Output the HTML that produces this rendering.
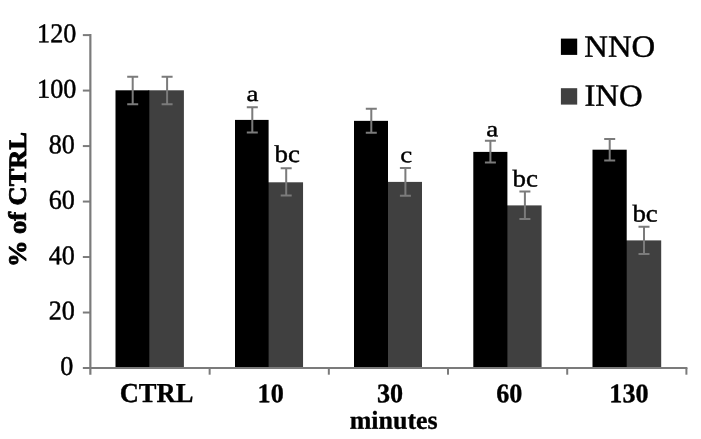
<!DOCTYPE html>
<html><head><meta charset="utf-8"><title>chart</title>
<style>html,body{margin:0;padding:0;background:#fff}svg{display:block}text{font-family:"Liberation Serif",serif;fill:#000;text-rendering:geometricPrecision}</style></head><body>
<svg width="701" height="439" viewBox="0 0 701 439">
<rect width="701" height="439" fill="#fff"/>
<rect x="148.30" y="90.30" width="35.60" height="277.70" fill="#404040"/>
<rect x="115.50" y="90.30" width="33.80" height="277.70" fill="#000"/>
<rect x="267.60" y="182.30" width="35.45" height="185.70" fill="#404040"/>
<rect x="235.00" y="119.90" width="33.60" height="248.10" fill="#000"/>
<rect x="387.00" y="181.90" width="35.00" height="186.10" fill="#404040"/>
<rect x="354.00" y="120.85" width="34.00" height="247.15" fill="#000"/>
<rect x="506.40" y="205.40" width="35.20" height="162.60" fill="#404040"/>
<rect x="473.30" y="151.90" width="34.10" height="216.10" fill="#000"/>
<rect x="625.70" y="240.40" width="35.50" height="127.60" fill="#404040"/>
<rect x="592.50" y="149.70" width="34.20" height="218.30" fill="#000"/>
<g stroke="#7b7b7b" stroke-width="2" fill="none">
<path d="M90.35 34.10 V374.7" stroke-width="2.2"/>
<path d="M82.85 368.0 H687.4"/>
<path d="M82.85 35.10 H90.45"/>
<path d="M82.85 90.58 H90.45"/>
<path d="M82.85 146.07 H90.45"/>
<path d="M82.85 201.55 H90.45"/>
<path d="M82.85 257.03 H90.45"/>
<path d="M82.85 312.52 H90.45"/>
<path d="M209.64 368.0 V374.7"/>
<path d="M328.83 368.0 V374.7"/>
<path d="M448.02 368.0 V374.7"/>
<path d="M567.21 368.0 V374.7"/>
<path d="M686.40 368.0 V374.7"/>
<path d="M127.20 76.70 H138.20 M127.20 104.30 H138.20 M132.70 76.70 V104.30"/>
<path d="M161.60 76.70 H172.60 M161.60 104.30 H172.60 M167.10 76.70 V104.30"/>
<path d="M246.80 107.30 H257.80 M246.80 132.40 H257.80 M252.30 107.30 V132.40"/>
<path d="M280.70 168.30 H291.70 M280.70 195.50 H291.70 M286.20 168.30 V195.50"/>
<path d="M365.80 108.65 H376.80 M365.80 132.75 H376.80 M371.30 108.65 V132.75"/>
<path d="M399.90 168.00 H410.90 M399.90 195.70 H410.90 M405.40 168.00 V195.70"/>
<path d="M484.90 140.80 H495.90 M484.90 162.40 H495.90 M490.40 140.80 V162.40"/>
<path d="M519.40 191.60 H530.40 M519.40 219.10 H530.40 M524.90 191.60 V219.10"/>
<path d="M604.20 139.10 H615.20 M604.20 160.60 H615.20 M609.70 139.10 V160.60"/>
<path d="M638.50 226.70 H649.50 M638.50 254.10 H649.50 M644.00 226.70 V254.10"/>
</g>
<text transform="matrix(1.0050 0.001 -0.001 1.0453 37.06 42.19)" font-size="26" stroke="#000" stroke-width="0.45" stroke-linejoin="round">120</text>
<text transform="matrix(1.0050 0.001 -0.001 1.0453 37.06 97.68)" font-size="26" stroke="#000" stroke-width="0.45" stroke-linejoin="round">100</text>
<text transform="matrix(1.0050 0.001 -0.001 1.0453 48.67 153.16)" font-size="26" stroke="#000" stroke-width="0.45" stroke-linejoin="round">80</text>
<text transform="matrix(1.0050 0.001 -0.001 1.0453 48.67 208.64)" font-size="26" stroke="#000" stroke-width="0.45" stroke-linejoin="round">60</text>
<text transform="matrix(1.0050 0.001 -0.001 1.0453 48.67 264.13)" font-size="26" stroke="#000" stroke-width="0.45" stroke-linejoin="round">40</text>
<text transform="matrix(1.0050 0.001 -0.001 1.0453 48.67 319.61)" font-size="26" stroke="#000" stroke-width="0.45" stroke-linejoin="round">20</text>
<text transform="matrix(1.0050 0.001 -0.001 1.0453 60.19 375.09)" font-size="26" stroke="#000" stroke-width="0.45" stroke-linejoin="round">0</text>
<text transform="matrix(1.0200 0.001 -0.001 1.0537 119.70 401.93)" font-size="26" font-weight="bold" stroke="#000" stroke-width="0.35" stroke-linejoin="round">CTRL</text>
<text transform="matrix(1.0050 0.001 -0.001 1.0322 257.61 402.20)" font-size="26" font-weight="bold" stroke="#000" stroke-width="0.35" stroke-linejoin="round">10</text>
<text transform="matrix(1.0050 0.001 -0.001 1.0322 376.88 402.20)" font-size="26" font-weight="bold" stroke="#000" stroke-width="0.35" stroke-linejoin="round">30</text>
<text transform="matrix(1.0050 0.001 -0.001 1.0322 496.24 402.20)" font-size="26" font-weight="bold" stroke="#000" stroke-width="0.35" stroke-linejoin="round">60</text>
<text transform="matrix(1.0050 0.001 -0.001 1.0322 609.37 402.20)" font-size="26" font-weight="bold" stroke="#000" stroke-width="0.35" stroke-linejoin="round">130</text>
<text transform="matrix(0.9983 0.001 -0.001 0.9920 349.70 428.70)" font-size="26" font-weight="bold" stroke="#000" stroke-width="0.35" stroke-linejoin="round">minutes</text>
<text transform="matrix(0.001 -1.0154 0.9600 0.001 25.78 266.98)" font-size="26" font-weight="bold" stroke="#000" stroke-width="0.9" stroke-linejoin="round">% of CTRL</text>
<text transform="matrix(1.0339 0.001 -0.001 0.8429 246.57 101.01)" font-size="26" stroke="#000" stroke-width="0.45" stroke-linejoin="round">a</text>
<text transform="matrix(1.0339 0.001 -0.001 0.9350 274.57 161.95)" font-size="26" stroke="#000" stroke-width="0.45" stroke-linejoin="round">bc</text>
<text transform="matrix(1.0339 0.001 -0.001 0.8602 400.13 162.16)" font-size="26" stroke="#000" stroke-width="0.45" stroke-linejoin="round">c</text>
<text transform="matrix(1.0339 0.001 -0.001 0.8429 486.17 136.26)" font-size="26" stroke="#000" stroke-width="0.45" stroke-linejoin="round">a</text>
<text transform="matrix(1.0339 0.001 -0.001 0.9350 512.57 186.60)" font-size="26" stroke="#000" stroke-width="0.45" stroke-linejoin="round">bc</text>
<text transform="matrix(1.0339 0.001 -0.001 0.9350 632.42 221.60)" font-size="26" stroke="#000" stroke-width="0.45" stroke-linejoin="round">bc</text>
<rect x="560.9" y="38.6" width="16.3" height="16.3" fill="#000"/>
<rect x="560.9" y="88.2" width="16.3" height="16.4" fill="#404040"/>
<text transform="matrix(1.0392 0.001 -0.001 0.9854 584.27 56.80)" font-size="31.5" stroke="#000" stroke-width="0.45" stroke-linejoin="round">NNO</text>
<text transform="matrix(1.0392 0.001 -0.001 0.9854 584.40 105.85)" font-size="31.5" stroke="#000" stroke-width="0.45" stroke-linejoin="round">INO</text>
</svg></body></html>
